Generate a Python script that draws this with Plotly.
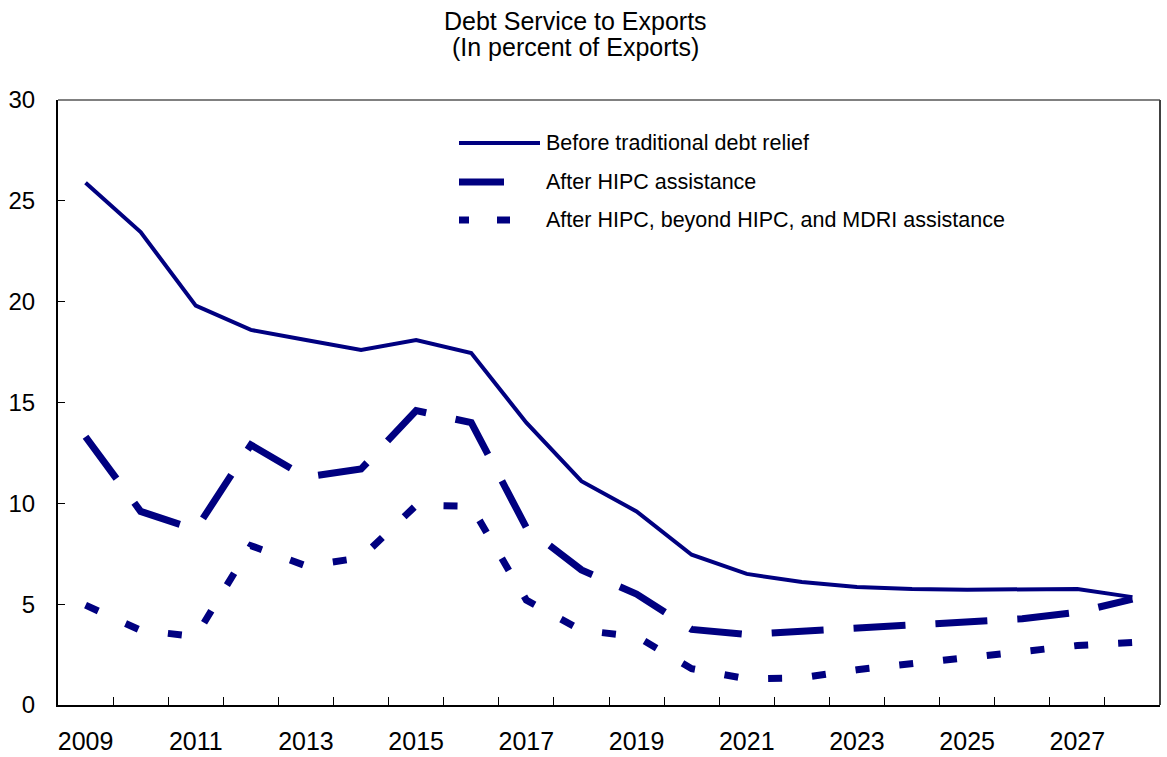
import plotly.graph_objects as go

years = list(range(2009, 2029))
tick_years = list(range(2009, 2029, 2))
before_relief = [25.9, 23.45, 19.8, 18.6, 18.1, 17.6, 18.1, 17.45, 14.0, 11.1,
                 9.6, 7.45, 6.5, 6.1, 5.85, 5.75, 5.72, 5.75, 5.75, 5.35]
after_hipc = [13.3, 9.6, 8.7, 12.9, 11.3, 11.7, 14.6, 14.0, 8.8, 6.7,
              5.5, 3.75, 3.5, 3.65, 3.85, 3.95, 4.1, 4.28, 4.6, 5.25]
after_mdri = [4.95, 3.7, 3.4, 7.9, 6.9, 7.3, 9.9, 9.85, 5.2, 3.7,
              3.4, 1.8, 1.3, 1.35, 1.75, 2.05, 2.35, 2.7, 2.95, 3.1]
series_names = ["Before traditional debt relief", "After HIPC assistance",
                "After HIPC, beyond HIPC, and MDRI assistance"]
title_lines = ["Debt Service to Exports", "(In percent of Exports)"]

NAVY = "#000080"
FONT = "Liberation Sans, Arial, sans-serif"

fig = go.Figure()
fig.add_trace(go.Scatter(x=years, y=before_relief, mode="lines", name=series_names[0],
                         line=dict(color=NAVY, width=4)))
fig.add_trace(go.Scatter(x=years, y=after_hipc, mode="lines", name=series_names[1],
                         line=dict(color=NAVY, width=7, dash="52px,30px")))
fig.add_trace(go.Scatter(x=years, y=after_mdri, mode="lines", name=series_names[2],
                         line=dict(color=NAVY, width=7, dash="14px,30px")))

# plot area pixel geometry
L, R, T, B = 58, 1160, 100, 705
W, H = R - L, B - T


def px(x):
    return (x - L) / W


def py(y):
    return (B - y) / H


shapes = [
    dict(type="line", xref="paper", yref="paper", x0=0, x1=1, y0=1, y1=1,
         line=dict(color="#808080", width=2)),
    dict(type="line", xref="paper", yref="paper", x0=1, x1=1, y0=0, y1=1,
         line=dict(color="#404040", width=2)),
    # legend samples
    dict(type="line", xref="paper", yref="paper", x0=px(459), x1=px(540), y0=py(143), y1=py(143),
         line=dict(color=NAVY, width=4)),
    dict(type="line", xref="paper", yref="paper", x0=px(459), x1=px(504), y0=py(182), y1=py(182),
         line=dict(color=NAVY, width=7)),
    dict(type="line", xref="paper", yref="paper", x0=px(459), x1=px(469), y0=py(220), y1=py(220),
         line=dict(color=NAVY, width=7)),
    dict(type="line", xref="paper", yref="paper", x0=px(497), x1=px(510), y0=py(220), y1=py(220),
         line=dict(color=NAVY, width=7)),
]

annotations = []
for name, yy in zip(series_names, [143, 182, 220]):
    annotations.append(dict(text=name, xref="paper", yref="paper", x=px(544), y=py(yy),
                            xanchor="left", yanchor="middle", showarrow=False,
                            font=dict(family=FONT, size=21.5, color="black")))
for line, yy in zip(title_lines, [21.5, 47.5]):
    annotations.append(dict(text=line, xref="paper", yref="paper", x=px(575), y=py(yy),
                            xanchor="center", yanchor="middle", showarrow=False,
                            font=dict(family=FONT, size=25, color="black")))

fig.update_layout(
    width=1167, height=757,
    margin=dict(l=L, r=1167 - R, t=T, b=757 - B),
    paper_bgcolor="white", plot_bgcolor="white",
    showlegend=False,
    shapes=shapes,
    annotations=annotations,
    xaxis=dict(range=[2008.5, 2028.5], tickmode="array", tickvals=tick_years,
               ticktext=[str(y) for y in tick_years], ticks="", showgrid=False, zeroline=False,
               showline=True, linecolor="black", linewidth=2, ticklabelstandoff=13,
               automargin=False,
               tickfont=dict(family=FONT, size=25, color="black"),
               minor=dict(tickmode="array", tickvals=[y + 0.5 for y in years[:-1]],
                          ticks="inside", ticklen=8, tickcolor="black", tickwidth=1, showgrid=False)),
    yaxis=dict(range=[0, 30], tickmode="linear", tick0=0, dtick=5, ticks="inside", ticklen=7,
               tickcolor="black", showgrid=False, zeroline=False, showline=True,
               linecolor="black", linewidth=2, ticklabelstandoff=16, automargin=False,
               tickfont=dict(family=FONT, size=24, color="black")),
)

fig.write_html("out.html")
